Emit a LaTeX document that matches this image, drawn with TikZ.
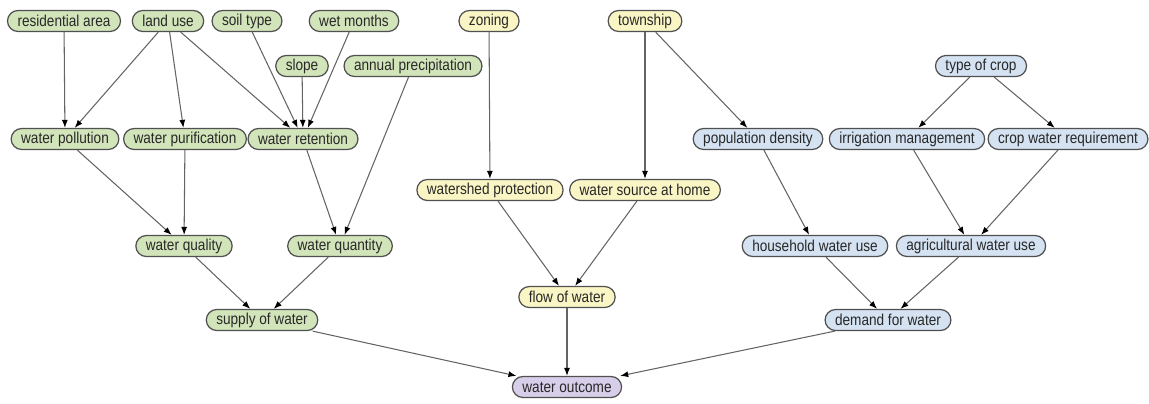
\documentclass[tikz,border=0pt]{standalone}
\usepackage{fontspec}
\usepackage{xcolor}
\usepackage{tikz}
\usetikzlibrary{arrows.meta}
\newfontfamily\nodefont{Liberation Sans}[FakeStretch=0.86]

\definecolor{landgreen}{RGB}{210,228,186}
\definecolor{sourceyellow}{RGB}{250,245,196}
\definecolor{demandblue}{RGB}{212,226,242}
\definecolor{outcomepurple}{RGB}{215,206,234}
\definecolor{bordergray}{RGB}{80,80,80}
\definecolor{edgegray}{RGB}{100,100,100}
\definecolor{textgray}{RGB}{40,40,40}

\tikzset{
  factor/.style={draw=bordergray, line width=0.7pt, rounded corners=0.21cm,
    minimum height=0.42cm, inner xsep=0.2cm, inner ysep=0pt,
    font=\nodefont\fontsize{9}{10}\selectfont, text=textgray},
  supply/.style={factor, fill=landgreen},
  flow/.style={factor, fill=sourceyellow},
  demand/.style={factor, fill=demandblue},
  outcome/.style={factor, fill=outcomepurple},
  link/.style={draw=edgegray, line width=0.6pt,
    -{Latex[length=1.6mm,width=1.2mm,color=black]}}
}

\begin{document}
\begin{tikzpicture}[x=0.02cm, y=-0.02cm]

\useasboundingbox (0,0) rectangle (1149,403);

% Supply side (green)
\node[supply] (resid) at (64,21)  {residential area};
\node[supply] (landuse) at (168,21) {land use};
\node[supply] (soil) at (247,21) {soil type};
\node[supply] (wet) at (354,21) {wet months};
\node[supply] (slope) at (302,66) {slope};
\node[supply] (precip) at (413,66) {annual precipitation};
\node[supply] (pollution) at (65,139) {water pollution};
\node[supply] (purif) at (185,139) {water purification};
\node[supply] (retention) at (303,139) {water retention};
\node[supply] (quality) at (184,246) {water quality};
\node[supply] (quantity) at (340,246) {water quantity};
\node[supply] (supplyw) at (262,320) {supply of water};

% Flow (yellow)
\node[flow] (zoning) at (489,21) {zoning};
\node[flow] (township) at (645,21) {township};
\node[flow] (watershed) at (490,190) {watershed protection};
\node[flow] (home) at (645,190) {water source at home};
\node[flow] (floww) at (567,297) {flow of water};

% Demand side (blue)
\node[demand] (crop) at (981,66) {type of crop};
\node[demand] (popdens) at (758,139) {population density};
\node[demand] (irrig) at (907,139) {irrigation management};
\node[demand] (cropreq) at (1068,139) {crop water requirement};
\node[demand] (household) at (815,246) {household water use};
\node[demand] (agri) at (971,246) {agricultural water use};
\node[demand] (demandw) at (888,320) {demand for water};

% Outcome
\node[outcome] (outcome) at (567,387) {water outcome};

% Links
\draw[link] (resid) -- (pollution);
\draw[link] (landuse) -- (pollution);
\draw[link] (landuse) -- (purif);
\draw[link] (landuse) -- (retention);
\draw[link] (soil) -- (retention);
\draw[link] (slope) -- (retention);
\draw[link] (wet) -- (retention);
\draw[link] (precip) -- (quantity);
\draw[link] (pollution) -- (quality);
\draw[link] (purif) -- (quality);
\draw[link] (retention) -- (quantity);
\draw[link] (quality) -- (supplyw);
\draw[link] (quantity) -- (supplyw);

\draw[link] (zoning) -- (watershed);
\draw[link] (township) -- (home);
\draw[link] (township) -- (popdens);
\draw[link] (watershed) -- (floww);
\draw[link] (home) -- (floww);

\draw[link] (crop) -- (irrig);
\draw[link] (crop) -- (cropreq);
\draw[link] (popdens) -- (household);
\draw[link] (irrig) -- (agri);
\draw[link] (cropreq) -- (agri);
\draw[link] (household) -- (demandw);
\draw[link] (agri) -- (demandw);

\draw[link] (supplyw) -- (outcome);
\draw[link] (floww) -- (outcome);
\draw[link] (demandw) -- (outcome);

\end{tikzpicture}
\end{document}
